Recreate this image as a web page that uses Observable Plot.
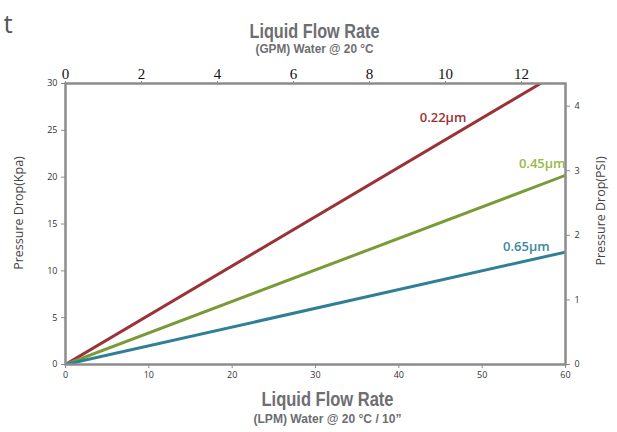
<!DOCTYPE html>
<html>
<head>
<meta charset="utf-8">
<script src="https://cdn.jsdelivr.net/npm/d3@7"></script>
<script src="https://cdn.jsdelivr.net/npm/@observablehq/plot@0.6"></script>
<style>
  html, body { margin: 0; padding: 0; background: #fff; }
  #chart svg { display: block; }
</style>
</head>
<body>
<div id="chart"></div>
<script>
// ---- data ----
const lpmTicks = [0, 10, 20, 30, 40, 50, 60];
const kpaTicks = [0, 5, 10, 15, 20, 25, 30];
const gpmTicks = [0, 2, 4, 6, 8, 10, 12];
const psiTicks = [0, 1, 2, 3, 4];
const lpmPerGpm = 4.56;     // as drawn on the chart's top axis
const kpaPerPsi = 6.895;

const series = ["0.22µm", "0.45µm", "0.65µm"];
const seriesColors = ["#9b3236", "#7a9a38", "#2f7f97"];
const labelColors = ["#9b3236", "#98b84a", "#3a88a2"];
const flow022 = [0, 57];
const drop022 = [0, 30];
const flow045 = [0, 60];
const drop045 = [0, 20.2];
const flow065 = [0, 60];
const drop065 = [0, 12];
const labelFlow = [45.3, 57.2, 55.3];
const labelDrop = [26.3, 21.4, 12.6];

const rows = [];
[[flow022, drop022], [flow045, drop045], [flow065, drop065]].forEach(([xs, ys], i) =>
  xs.forEach((x, j) => rows.push({series: series[i], flow: x, drop: ys[j]})));
const labels = series.map((s, i) => ({series: s, flow: labelFlow[i], drop: labelDrop[i], color: labelColors[i]}));

const titleFont = "'Liberation Sans', Arial, sans-serif";
const tickFont = "'Open Sans', 'DejaVu Sans', sans-serif";
const gray = "#6d6e71";
const axisGray = "#8c8c8c";

const chart = Plot.plot({
  width: 617,
  height: 432,
  marginLeft: 65,
  marginRight: 52,
  marginTop: 83,
  marginBottom: 68,
  x: {domain: [0, 60], axis: null},
  y: {domain: [0, 30], axis: null},
  color: {domain: series, range: seriesColors},
  style: {background: "#fff", overflow: "visible"},
  marks: [
    Plot.line(rows, {x: "flow", y: "drop", z: "series", stroke: "series", strokeWidth: 3, clip: true}),
    Plot.frame({stroke: axisGray, strokeWidth: 2.5}),
    Plot.axisX(lpmTicks, {anchor: "bottom", tickSize: 4, tickPadding: 3, stroke: axisGray, fill: "#333", fontSize: 9, fontFamily: tickFont, label: null}),
    Plot.axisX(gpmTicks.map(g => g * lpmPerGpm), {anchor: "top", tickSize: 3, tickPadding: 2, stroke: axisGray, fill: "#111", fontSize: 15, fontFamily: "'Liberation Serif', 'DejaVu Serif', serif", tickFormat: d => Math.round(d / lpmPerGpm), label: null}),
    Plot.axisY(kpaTicks, {anchor: "left", tickSize: 4, tickPadding: 4, stroke: axisGray, fill: "#333", fontSize: 9, fontFamily: tickFont, label: null}),
    Plot.axisY(psiTicks.map(p => p * kpaPerPsi), {anchor: "right", tickSize: 4, tickPadding: 5, stroke: axisGray, fill: "#333", fontSize: 9, fontFamily: tickFont, tickFormat: d => Math.round(d / kpaPerPsi), label: null}),
    Plot.text(labels, {x: "flow", y: "drop", text: "series", fill: "color", fontSize: 13, fontWeight: 600, fontFamily: tickFont}),
    Plot.text(["Pressure Drop(Kpa)"], {frameAnchor: "left", textAnchor: "middle", dx: -47, dy: -11, rotate: -90, fontSize: 12.5, fill: "#444", fontFamily: tickFont}),
    Plot.text(["Pressure Drop(PSI)"], {frameAnchor: "right", textAnchor: "middle", dx: 35, dy: -13, rotate: -90, fontSize: 12.5, fill: "#444", fontFamily: tickFont}),
    Plot.text(["Liquid Flow Rate"], {frameAnchor: "top", dx: -1, dy: -60.5, fontSize: 21, fontWeight: "bold", fill: gray, fontFamily: titleFont, className: "ttl130"}),
    Plot.text(["(GPM) Water @ 20 °C"], {frameAnchor: "top", dx: -1, dy: -39.5, fontSize: 12.5, fontWeight: "bold", fill: gray, fontFamily: titleFont, className: "sub118"}),
    Plot.text(["Liquid Flow Rate"], {frameAnchor: "bottom", dx: 12, dy: 41, fontSize: 21, fontWeight: "bold", fill: gray, fontFamily: titleFont, className: "ttl132"}),
    Plot.text(["(LPM) Water @ 20 °C / 10”"], {frameAnchor: "bottom", dx: 12, dy: 58, fontSize: 12.5, fontWeight: "bold", fill: gray, fontFamily: titleFont, className: "sub148"}),
    Plot.text(["t"], {frameAnchor: "top-left", dx: -62, dy: -69, textAnchor: "start", fontSize: 26, fill: "#555", fontFamily: tickFont})
  ]
});
// condensed look for the titles
[["ttl130", 130], ["sub118", 118], ["ttl132", 132], ["sub148", 148]].forEach(([cls, w]) => {
  d3.select(chart).selectAll("g." + cls + " text")
    .attr("textLength", w)
    .attr("lengthAdjust", "spacingAndGlyphs");
});
document.getElementById("chart").appendChild(chart);
</script>
</body>
</html>
